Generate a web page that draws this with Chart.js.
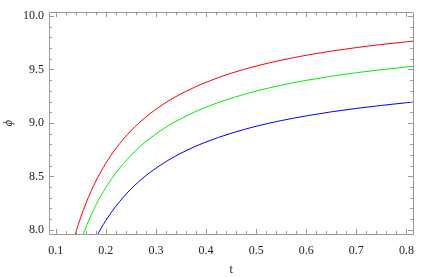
<!DOCTYPE html>
<html>
<head>
<meta charset="utf-8">
<script src="https://cdn.jsdelivr.net/npm/chart.js@4/dist/chart.umd.min.js"></script>
<style>
  html, body { margin: 0; padding: 0; background: #fff; }
  #wrap { width: 424px; height: 277px; }
</style>
</head>
<body>
<div id="wrap"><canvas id="phiChart" width="424" height="277"></canvas></div>
<script>
// t values and phi
var tValues = [0.13, 0.14, 0.15, 0.16, 0.17, 0.18, 0.19, 0.20, 0.22, 0.25, 0.28, 0.32,
  0.36, 0.40, 0.45, 0.50, 0.55, 0.60, 0.65, 0.70, 0.75, 0.80, 0.82];
var redPhi = [7.807, 7.974, 8.118, 8.244, 8.356, 8.455, 8.543, 8.623, 8.761, 8.926, 9.056, 9.191,
  9.296, 9.380, 9.465, 9.532, 9.587, 9.633, 9.672, 9.705, 9.734, 9.759, 9.768];
var greenPhi = [null, null, 7.896, 8.021, 8.131, 8.230, 8.317, 8.396, 8.533, 8.697, 8.826, 8.960,
  9.064, 9.148, 9.231, 9.298, 9.353, 9.398, 9.437, 9.470, 9.498, 9.523, 9.533];
var bluePhi = [null, null, null, null, null, 7.924, 8.010, 8.087, 8.221, 8.381, 8.507, 8.638,
  8.740, 8.822, 8.903, 8.969, 9.022, 9.066, 9.104, 9.136, 9.164, 9.189, 9.198];

var xTicks = [0.1, 0.2, 0.3, 0.4, 0.5, 0.6, 0.7, 0.8];
var yTicks = [8.0, 8.5, 9.0, 9.5, 10.0];

var serif = "'Liberation Serif', 'DejaVu Serif', serif";

function toPoints(ys) {
  var pts = [];
  for (var i = 0; i < tValues.length; i++) {
    if (ys[i] !== null) pts.push({ x: tValues[i], y: ys[i] });
  }
  return pts;
}

// frame with inward major/minor ticks on all four sides
var framePlugin = {
  id: "frame",
  afterDraw: function (chart) {
    var ctx = chart.ctx;
    var a = chart.chartArea;
    var xs = chart.scales.x;
    var ys = chart.scales.y;
    ctx.save();
    ctx.strokeStyle = "#999";
    ctx.lineWidth = 1;
    ctx.beginPath();
    ctx.rect(Math.round(a.left) + 0.5, Math.round(a.top) + 0.5,
      Math.round(a.right - a.left), Math.round(a.bottom - a.top));
    ctx.stroke();
    ctx.beginPath();
    for (var v = 0.08; v <= 0.82; v += 0.02) {
      var val = Math.round(v * 100) / 100;
      if (val < xs.min || val > xs.max) continue;
      var major = Math.abs(val * 10 - Math.round(val * 10)) < 1e-6;
      var len = major ? 5 : 3;
      var px = Math.round(xs.getPixelForValue(val)) + 0.5;
      ctx.moveTo(px, a.bottom); ctx.lineTo(px, a.bottom - len);
      ctx.moveTo(px, a.top); ctx.lineTo(px, a.top + len);
    }
    for (var w = 7.9; w <= 10.1; w += 0.1) {
      var yv = Math.round(w * 10) / 10;
      if (yv < ys.min || yv > ys.max) continue;
      var majorY = Math.abs(yv * 2 - Math.round(yv * 2)) < 1e-6;
      var lenY = majorY ? 5 : 3;
      var py = Math.round(ys.getPixelForValue(yv)) + 0.5;
      ctx.moveTo(a.left, py); ctx.lineTo(a.left + lenY, py);
      ctx.moveTo(a.right, py); ctx.lineTo(a.right - lenY, py);
    }
    ctx.stroke();
    ctx.restore();
  }
};

var ctx = document.getElementById("phiChart").getContext("2d");
var chart = new Chart(ctx, {
  type: "line",
  data: {
    datasets: [
      { data: toPoints(redPhi), borderColor: "#ff0000" },
      { data: toPoints(greenPhi), borderColor: "#00ee00" },
      { data: toPoints(bluePhi), borderColor: "#0000ff" }
    ]
  },
  options: {
    responsive: false,
    animation: false,
    layout: { padding: { top: 4, right: 1, left: 0, bottom: 0 } },
    elements: {
      point: { radius: 0 },
      line: { borderWidth: 1, cubicInterpolationMode: "monotone", fill: false }
    },
    plugins: { legend: { display: false }, tooltip: { enabled: false } },
    scales: {
      x: {
        type: "linear",
        min: 0.0866,
        max: 0.8132,
        afterBuildTicks: function (s) { s.ticks = xTicks.map(function (v) { return { value: v }; }); },
        afterFit: function (s) { s.height = 43; },
        grid: { display: false, drawTicks: false },
        border: { display: false },
        ticks: {
          padding: 10,
          maxRotation: 0,
          color: "#222",
          font: { family: serif, size: 12 },
          callback: function (v) { return v.toFixed(1); }
        },
        title: {
          display: true,
          text: "t",
          color: "#222",
          padding: { top: 6, bottom: 0 },
          font: { family: serif, size: 12 }
        }
      },
      y: {
        min: 7.961,
        max: 10.036,
        afterBuildTicks: function (s) { s.ticks = yTicks.map(function (v) { return { value: v }; }); },
        afterFit: function (s) { s.width = 49; },
        grid: { display: false, drawTicks: false },
        border: { display: false },
        ticks: {
          padding: 5,
          color: "#222",
          font: { family: serif, size: 12 },
          callback: function (v) { return v.toFixed(1); }
        },
        title: {
          display: true,
          text: "ϕ",
          color: "#222",
          padding: { top: 2, bottom: 0 },
          font: { family: serif, size: 12, style: "italic" }
        }
      }
    }
  },
  plugins: [framePlugin]
});
</script>
</body>
</html>
